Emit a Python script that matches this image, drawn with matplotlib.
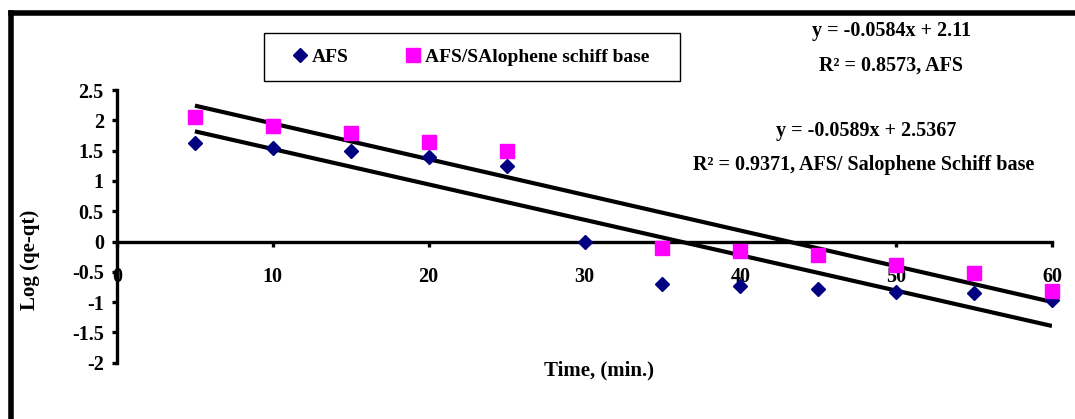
import numpy as np
import matplotlib
matplotlib.use('Agg')
from matplotlib import pyplot as plt
from matplotlib.lines import Line2D
from matplotlib.patches import Rectangle

plt.rcParams['font.family'] = ['Liberation Serif', 'DejaVu Serif']
plt.rcParams['font.weight'] = 'bold'

# data
time_afs = [5, 10, 15, 20, 25, 30, 35, 40, 45, 50, 55, 60]
log_afs = [1.62, 1.55, 1.50, 1.39, 1.24, 0.0, -0.70, -0.74, -0.79, -0.83, -0.85, -0.96]
time_sal = [5, 10, 15, 20, 25, 35, 40, 45, 50, 55, 60]
log_sal = [2.06, 1.90, 1.79, 1.65, 1.49, -0.10, -0.15, -0.22, -0.38, -0.52, -0.81]

# trendlines as printed on the chart (slope, intercept)
fit_afs = (-0.0584, 2.11)
fit_sal = (-0.0589, 2.5367)
fit_range = [5, 60]

xticks = [0, 10, 20, 30, 40, 50, 60]
yticks = [-2, -1.5, -1, -0.5, 0, 0.5, 1, 1.5, 2, 2.5]
ytick_labels = ['-2', '-1.5', '-1', '-0.5', '0', '0.5', '1', '1.5', '2', '2.5']

W, H = 1075, 419
fig = plt.figure(figsize=(W / 100, H / 100), dpi=100)
ax = fig.add_axes([117 / W, 1 - 362.7 / H, (1052 - 117) / W, (362.7 - 90) / H])

ax.plot(time_afs, log_afs, ls='none', marker='D', ms=7, color='#000080', label='AFS', clip_on=False, zorder=3)
ax.plot(time_sal, log_sal, ls='none', marker='s', ms=10.5, color='#FF00FF', label='AFS/SAlophene schiff base', clip_on=False, zorder=3)

xs = np.array(fit_range)
for m, b in (fit_afs, fit_sal):
    ax.plot(xs, m * xs + b, color='black', lw=3, solid_capstyle='butt', zorder=2)

ax.set_xlim(0, 60)
ax.set_ylim(-2, 2.5)
ax.spines['bottom'].set_position(('data', 0))
ax.spines['left'].set_position(('data', 0))
ax.spines['top'].set_visible(False)
ax.spines['right'].set_visible(False)
for s in ('bottom', 'left'):
    ax.spines[s].set_linewidth(2.4)
ax.set_xticks(xticks)
ax.set_xticklabels([str(t) for t in xticks])
ax.set_yticks(yticks)
ax.set_yticklabels(ytick_labels)
ax.tick_params(axis='y', direction='out', length=3.5, width=2.4, pad=6, labelsize=14.5)
ax.tick_params(axis='x', direction='out', length=3.5, width=2.4, pad=15, labelsize=14.5)
for lab in ax.get_xticklabels() + ax.get_yticklabels():
    lab.set_fontweight('bold')

fig.text(30 / W, 1 - 260 / H, 'Log (qe-qt)', rotation=90, ha='center', va='center', fontsize=15, fontweight='bold')
fig.text(599 / W, 1 - 370 / H, 'Time, (min.)', ha='center', va='center', fontsize=15, fontweight='bold')

# legend box drawn separately so its size matches
fig.add_artist(Rectangle((264 / W, 1 - 81 / H), (680 - 264) / W, 48 / H, transform=fig.transFigure,
                         facecolor='white', edgecolor='black', lw=1.0, zorder=1))
leg = fig.legend(loc='center', bbox_to_anchor=(470 / W, 1 - 57 / H), ncol=2, frameon=False,
                 prop={'size': 14, 'weight': 'bold'}, handletextpad=0.1, columnspacing=2.8,
                 borderpad=0, handlelength=1.0)
leg.set_zorder(2)

ann_kw = dict(ha='center', va='center', fontsize=14.5, fontweight='bold')
fig.text(891 / W, 1 - 31 / H, 'y = -0.0584x + 2.11', **ann_kw)
fig.text(891 / W, 1 - 66 / H, 'R\u00b2 = 0.8573, AFS', **ann_kw)
fig.text(866 / W, 1 - 131 / H, 'y = -0.0589x + 2.5367', **ann_kw)
fig.text(864 / W, 1 - 165 / H, 'R\u00b2 = 0.9371, AFS/ Salophene Schiff base', **ann_kw)

# outer frame, cut off at right and bottom like the source image
fig.add_artist(Line2D([11 / W, 1], [1 - 13 / H, 1 - 13 / H], color='black', lw=4, transform=fig.transFigure))
fig.add_artist(Line2D([11 / W, 11 / W], [1 - 13 / H, 0], color='black', lw=4, transform=fig.transFigure))

fig.savefig('out.png', dpi=100)
